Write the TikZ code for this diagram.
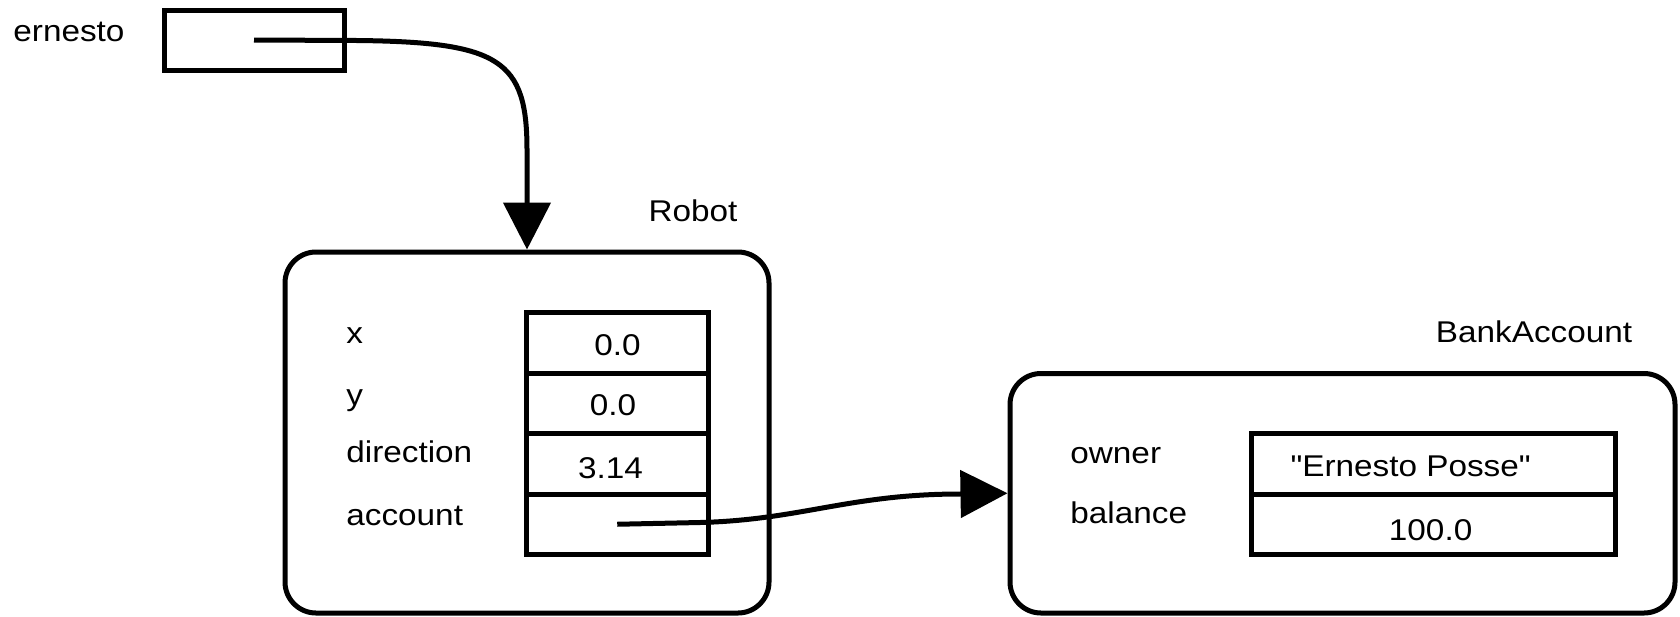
\documentclass[tikz,border=0pt]{standalone}
\usepackage{fontspec}
\setmainfont{Liberation Sans}[FakeStretch=1.11]
\newfontfamily\plainq{Liberation Sans}[FakeStretch=1.11,Ligatures=ResetAll]
\usetikzlibrary{arrows.meta}
\begin{document}
\begin{tikzpicture}[x=0.5pt,y=-0.5pt,
  lw/.style={line width=2.5pt},
  txt/.style={font=\fontsize{15pt}{18pt}\selectfont, inner sep=0pt},
  lbl/.style={txt, anchor=base west},
  val/.style={txt, anchor=base},
  cell/.style={draw, lw, inner sep=0pt, minimum width=#1, minimum height=30.25pt},
  objbox/.style={draw, lw, inner sep=0pt, rounded corners=15.5pt},
  conn/.style={lw, -{Triangle[length=23.5pt,width=23.5pt]}}]
\useasboundingbox (0,0) rectangle (1680,616);

% variable ernesto
\node[lbl] (lernesto) at (13,41.7) {ernesto};
\node[draw, lw, inner sep=0pt, minimum width=90pt, minimum height=30pt] (ptr) at (254,40) {};

% Robot object
\node[val] (trobot) at (693,221.7) {Robot};
\node[objbox, minimum width=242pt, minimum height=180.5pt] (robot) at (527,432.5) {};
\node[cell=90.75pt] (cx) at (617.25,342.75) {};
\node[cell=90.75pt] (cy) at (617.25,403.25) {};
\node[cell=90.75pt] (cdir) at (617.25,463.75) {};
\node[cell=90.75pt] (cacc) at (617.25,524.25) {};
\node[lbl] (lx) at (346,343) {x};
\node[lbl] (ly) at (346,405.7) {y};
\node[lbl] (ldir) at (346,462.7) {direction};
\node[lbl] (lacc) at (346,525) {account};
\node[val] (vx) at (617.5,355) {0.0};
\node[val] (vy) at (613,415.7) {0.0};
\node[val] (vdir) at (610.5,478) {3.14};

% BankAccount object
\node[val] (tbank) at (1534,342) {BankAccount};
\node[objbox, minimum width=332.5pt, minimum height=119.75pt] (ba) at (1342.5,493.25) {};
\node[cell=181.75pt] (cown) at (1433.25,464.1) {};
\node[cell=181.75pt] (cbal) at (1433.25,524.4) {};
\node[lbl] (lown) at (1070,463) {owner};
\node[lbl] (lbal) at (1070,523) {balance};
\node[val] (vown) at (1410.6,476.7) {{\plainq "Ernesto Posse"}};
\node[val] (vbal) at (1430.6,540) {100.0};

% connectors
\draw[conn] (ptr.center) -- (357,40.5) .. controls (500,42) and (527,60) .. (527,150) -- (robot.north);
\draw[conn] (cacc.center) -- (700,522.5) .. controls (800,520) and (850,494) .. (960,494) -- (ba.west);
\end{tikzpicture}
\end{document}
